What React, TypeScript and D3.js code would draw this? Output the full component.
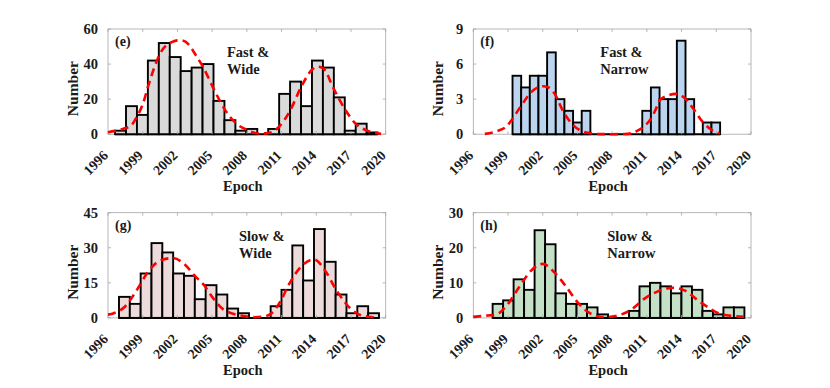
import React from "react";
import * as d3 from "d3";

// ---------- data ----------
const xTickLabels = [1996, 1999, 2002, 2005, 2008, 2011, 2014, 2017, 2020];

// (e) Fast & Wide
const countsE = [2, 16, 11, 42, 52, 44, 36, 38, 40, 19, 8, 2, 3, 0, 3, 23, 30, 16, 42, 38, 21, 2, 6, 1];
const binRangeE = [1996.61, 2019.3];
const yTicksE = [0, 20, 40, 60];
const fitYearsE = [1996, 1996.6, 1997.3, 1998, 1998.5, 1999, 1999.5, 2000, 2000.5, 2001, 2001.5, 2002, 2002.5, 2003, 2003.5, 2004.2, 2005.2, 2006.1, 2007.1, 2008, 2009, 2009.8, 2010.8, 2011.7, 2012.7, 2013.6, 2014.1, 2014.6, 2015.5, 2016.5, 2017.4, 2018.4, 2019.3, 2019.6];
const fitValsE = [1.1, 1.9, 3, 5, 10, 17, 28, 38, 46, 50.5, 52.5, 53.5, 53.3, 51, 46, 38.5, 25, 14, 6, 2.5, 0.4, 0.6, 4.4, 13, 27, 36.6, 38.5, 37.6, 26, 14, 6, 2, 0.5, 0.2];

// (f) Fast & Narrow
const countsF = [5, 4, 5, 5, 7, 3, 2, 1, 2, 0, 0, 0, 0, 0, 0, 2, 4, 3, 3, 8, 3, 0, 1, 1];
const binRangeF = [1999.39, 2017.33];
const yTicksF = [0, 3, 6, 9];
const fitYearsF = [1997, 1998, 1998.9, 1999.3, 2000.25, 2001, 2002, 2002.5, 2003, 2003.8, 2004.6, 2005.9, 2007, 2008, 2009, 2009.5, 2010.2, 2010.8, 2011.4, 2011.8, 2012.1, 2012.8, 2013.5, 2014.25, 2015, 2015.7, 2016.55, 2017.3];
const fitValsF = [0.03, 0.25, 0.7, 1.2, 2.6, 3.6, 4.1, 4.0, 3.5, 1.9, 0.8, 0.12, 0.01, 0, 0.02, 0.05, 0.3, 0.7, 1.4, 2.2, 2.9, 3.3, 3.45, 3.1, 2.2, 1.2, 0.4, 0.05];

// (g) Slow & Wide
const countsG = [9, 6, 19, 32, 28, 19, 18, 8, 14, 10, 4, 2, 0, 0, 5, 12, 31, 16, 38, 24, 10, 2, 5, 2];
const binRangeG = [1996.95, 2019.42];
const yTicksG = [0, 15, 30, 45];
const fitYearsG = [1996, 1996.5, 1997.5, 1998.5, 1999.5, 2000.5, 2001.6, 2002.6, 2003.5, 2004.3, 2005, 2006, 2007.5, 2008.7, 2009.8, 2010.9, 2011.6, 2012.7, 2013.8, 2014.8, 2015.6, 2016.5, 2017.4, 2018.5, 2019.4];
const fitValsG = [1.4, 2, 5, 12, 20, 24.5, 25.6, 23, 18, 14, 9, 3.5, 1, 0.3, 1, 7, 14, 22, 25, 20, 13, 6.5, 2.2, 0.5, 0.2];

// (h) Slow & Narrow
const countsH = [4, 5, 11, 8, 25, 21, 7, 4, 4, 3, 1, 0, 0, 2, 9, 10, 9, 7, 9, 8, 2, 1, 3, 3];
const binRangeH = [1997.67, 2019.43];
const yTicksH = [0, 10, 20, 30];
const fitYearsH = [1996, 1997, 1998, 1999, 2000, 2001, 2002, 2003, 2004, 2005, 2006, 2007.3, 2008.5, 2009.7, 2010.8, 2011.9, 2012.9, 2013.3, 2014.3, 2015.4, 2016.3, 2017.2, 2018.5, 2019.4];
const fitValsH = [0.3, 0.6, 1, 4, 9, 13.5, 15.4, 13, 9, 4.5, 1.5, 0.2, 0.7, 2.5, 5.5, 7.5, 8.5, 8.6, 7.8, 5, 3, 1.3, 0.5, 0.3];

const panels = [
  { id: "(e)", l1: "Fast &", l2: "Wide", counts: countsE, range: binRangeE, yTicks: yTicksE, fy: fitYearsE, fv: fitValsE, fill: "#dadada", col: 0, row: 0, tx: 119 },
  { id: "(f)", l1: "Fast &", l2: "Narrow", counts: countsF, range: binRangeF, yTicks: yTicksF, fy: fitYearsF, fv: fitValsF, fill: "#bcd5ef", col: 1, row: 0, tx: 127 },
  { id: "(g)", l1: "Slow &", l2: "Wide", counts: countsG, range: binRangeG, yTicks: yTicksG, fy: fitYearsG, fv: fitValsG, fill: "#eddada", col: 0, row: 1, tx: 131 },
  { id: "(h)", l1: "Slow &", l2: "Narrow", counts: countsH, range: binRangeH, yTicks: yTicksH, fy: fitYearsH, fv: fitValsH, fill: "#c4e0c6", col: 1, row: 1, tx: 134 },
];

// ---------- layout ----------
const W = 830;
const H = 388;
const lefts = [108, 473.3];
const tops = [29, 212.7];
const pw = 277.7;
const ph = 105.2;
const FONT = "'Liberation Serif', 'Times New Roman', serif";
const TXT = "#1a1a1a";

function Panel({ p }: { p: any }) {
  const x0 = lefts[p.col];
  const y0 = tops[p.row];
  const x = d3.scaleLinear().domain([1996, 2020]).range([x0, x0 + pw]);
  const yMax = p.yTicks[p.yTicks.length - 1];
  const y = d3.scaleLinear().domain([0, yMax]).range([y0 + ph, y0]);
  const n = p.counts.length;
  const bw = (p.range[1] - p.range[0]) / n;
  const edges = d3.range(n + 1).map((i) => p.range[0] + i * bw);
  const line = d3
    .line<number>()
    .x((_, i) => x(p.fy[i]))
    .y((v) => y(v))
    .curve(d3.curveMonotoneX);
  const bottom = y0 + ph;
  return (
    <g>
      {/* box */}
      <rect x={x0} y={y0} width={pw} height={ph} fill="none" stroke="#a6a6a6" strokeWidth={0.8} />
      {/* bars */}
      <line x1={x(edges[0])} x2={x(edges[n])} y1={bottom} y2={bottom} stroke="#000" strokeWidth={2} />
      {p.counts.map((c: number, i: number) =>
        c > 0 ? (
          <rect
            key={i}
            x={x(edges[i])}
            y={y(c)}
            width={x(edges[i + 1]) - x(edges[i])}
            height={bottom - y(c)}
            fill={p.fill}
            stroke="#000"
            strokeWidth={1.9}
          />
        ) : null
      )}
      {xTickLabels.map((t) => (
        <g key={"xt" + t}>
          <line x1={x(t)} x2={x(t)} y1={bottom} y2={bottom - 3} stroke="#a6a6a6" strokeWidth={0.8} />
          <line x1={x(t)} x2={x(t)} y1={y0} y2={y0 + 3} stroke="#a6a6a6" strokeWidth={0.8} />
          <text
            transform={`translate(${x(t) + 1},${bottom + 22}) rotate(-45)`}
            textAnchor="end"
            fontFamily={FONT}
            fontWeight="bold"
            fontSize={14}
            fill={TXT}
          >
            {t}
          </text>
        </g>
      ))}
      {p.yTicks.map((t: number) => (
        <g key={"yt" + t}>
          <line x1={x0} x2={x0 + 3} y1={y(t)} y2={y(t)} stroke="#a6a6a6" strokeWidth={0.8} />
          <line x1={x0 + pw} x2={x0 + pw - 3} y1={y(t)} y2={y(t)} stroke="#a6a6a6" strokeWidth={0.8} />
          <text x={x0 - 10} y={y(t)} dy="0.35em" textAnchor="end" fontFamily={FONT} fontWeight="bold" fontSize={14.5} fill={TXT}>
            {t}
          </text>
        </g>
      ))}
      {/* fit curve */}
      <path d={line(p.fv) || ""} fill="none" stroke="#ff0000" strokeWidth={2.6} strokeDasharray="8,5" />
      {/* labels */}
      <text x={x0 + 7} y={y0 + 17} fontFamily={FONT} fontWeight="bold" fontSize={14} fill={TXT}>
        {p.id}
      </text>
      <text x={x0 + p.tx} y={y0 + 28} fontFamily={FONT} fontWeight="bold" fontSize={14.5} fill={TXT}>
        {p.l1}
      </text>
      <text x={x0 + p.tx} y={y0 + 45} fontFamily={FONT} fontWeight="bold" fontSize={14.5} fill={TXT}>
        {p.l2}
      </text>
      <text
        transform={`translate(${x0 - 30},${y0 + ph / 2 + 7}) rotate(-90)`}
        textAnchor="middle"
        fontFamily={FONT}
        fontWeight="bold"
        fontSize={15.5}
        fill={TXT}
      >
        Number
      </text>
      <text x={x0 + pw / 2 - 4} y={bottom + 57} textAnchor="middle" fontFamily={FONT} fontWeight="bold" fontSize={14.5} fill={TXT}>
        Epoch
      </text>
    </g>
  );
}

export default function App() {
  return (
    <svg width={W} height={H} style={{ position: "absolute", left: 0, top: 0, background: "#fff" }}>
      <rect width={W} height={H} fill="#fff" />
      {panels.map((p) => (
        <Panel key={p.id} p={p} />
      ))}
    </svg>
  );
}
